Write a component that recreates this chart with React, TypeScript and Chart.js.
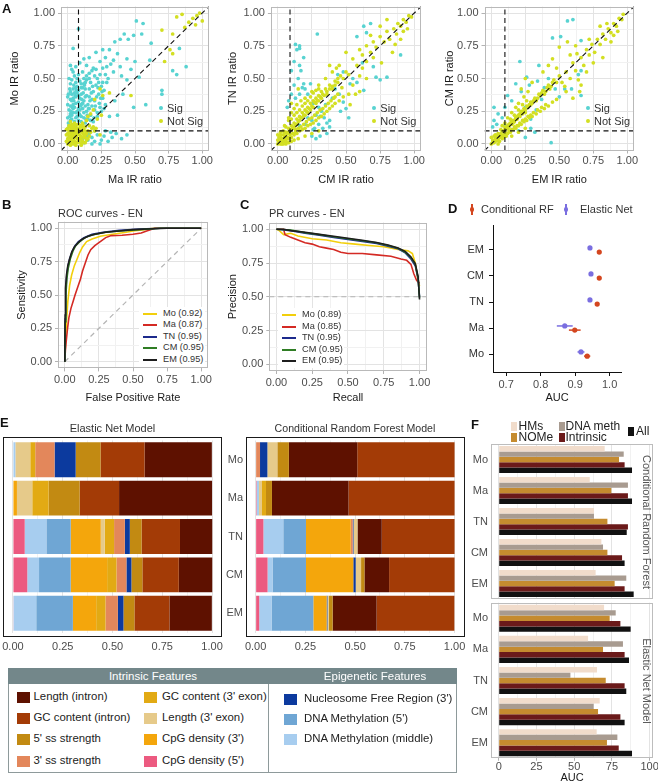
import React, { useEffect, useRef } from "react";
import { Chart, registerables } from "chart.js";

Chart.register(...registerables);

const FONT = "'Liberation Sans', Arial, Helvetica, sans-serif";
Chart.defaults.font.family = FONT;

// ---------------- colours ----------------
const CYAN = "#58d3d1";
const YEL = "#d3df22";
const MAJOR_GRID = "#e3e3e3";
const MINOR_GRID = "#f1f1f1";

// ---------------- Panel A data (IR ratio scatter) ----------------
const IR_TICKS = [0, 0.25, 0.5, 0.75, 1];
const IR_MINOR = [0.125, 0.375, 0.625, 0.875];
const A_VLINE = [0.08, 0.09, 0.1];
const A_HLINE = [0.1, 0.1, 0.1];

const MA_MO_SIG: number[][] = [
  [0.01,0.14],[0.02,0.18],[0.03,0.22],[0.01,0.26],[0.04,0.30],[0.02,0.34],[0.05,0.17],[0.06,0.20],[0.07,0.25],[0.05,0.28],
  [0.08,0.32],[0.03,0.38],[0.06,0.36],[0.09,0.22],[0.10,0.17],[0.11,0.27],[0.04,0.42],[0.07,0.44],[0.10,0.38],[0.12,0.33],
  [0.02,0.46],[0.09,0.48],[0.13,0.42],[0.12,0.20],[0.14,0.25],[0.15,0.30],[0.16,0.36],[0.17,0.22],[0.00,0.20],[0.00,0.30],
  [0.08,0.18],[0.13,0.16],[0.15,0.19],[0.18,0.29],[0.19,0.40],[0.20,0.33],[0.21,0.45],[0.23,0.38],[0.17,0.47],[0.01,0.50],
  [0.05,0.52],[0.11,0.55],[0.14,0.52],[0.18,0.56],[0.22,0.50],[0.25,0.44],[0.27,0.41],[0.26,0.35],[0.29,0.47],[0.24,0.28],
  [0.22,0.24],[0.28,0.30],[0.03,0.19],[0.04,0.24],[0.02,0.29],[0.06,0.31],[0.08,0.27],[0.10,0.30],[0.07,0.39],[0.04,0.35],
  [0.11,0.43],[0.09,0.35],[0.12,0.24],[0.13,0.29],[0.14,0.37],[0.06,0.47],[0.02,0.40],[0.00,0.36],[0.10,0.21],[0.16,0.42],
  [0.18,0.34],[0.20,0.26],[0.16,0.27],[0.08,0.41],[0.12,0.50],
  [0.005,0.16],[0.015,0.21],[0.025,0.25],[0.035,0.28],[0.045,0.33],[0.055,0.37],[0.065,0.41],[0.075,0.15],[0.085,0.23],[0.095,0.29],
  [0.105,0.34],[0.115,0.39],[0.125,0.45],[0.135,0.19],[0.145,0.22],[0.155,0.27],[0.165,0.33],[0.175,0.39],[0.185,0.44],[0.195,0.20],
  [0.205,0.29],[0.215,0.36],[0.225,0.43],[0.235,0.31],[0.245,0.35],[0.255,0.40],[0.03,0.33],[0.05,0.39],[0.07,0.21],[0.09,0.26],
  [0.11,0.31],[0.13,0.36],[0.02,0.23],[0.04,0.27],[0.06,0.24],[0.08,0.37],[0.10,0.43],[0.12,0.46],[0.14,0.49],[0.16,0.54],
  [0.04,0.55],[0.08,0.53],[0.03,0.49],[0.07,0.50],[0.015,0.42],[0.045,0.45],[0.20,0.52],[0.23,0.47],[0.26,0.47],[0.28,0.53],
  [0.17,0.18],[0.19,0.17],[0.22,0.21],[0.25,0.25],[0.27,0.27],[0.13,0.47],[0.005,0.38],[0.10,0.46],[0.06,0.43],[0.03,0.57],
  [0.21,0.57],[0.26,0.58],
  [0.02,0.60],[0.06,0.59],[0.16,0.50],[0.19,0.58],[0.24,0.53],[0.29,0.59],[0.34,0.55],[0.39,0.59],[0.44,0.49],[0.53,0.51],
  [0.50,0.63],[0.44,0.65],[0.34,0.64],[0.24,0.63],[0.12,0.65],[0.16,0.66],[0.04,0.73],[0.21,0.70],[0.26,0.72],[0.31,0.72],
  [0.35,0.78],[0.39,0.80],[0.45,0.80],[0.42,0.84],[0.49,0.83],[0.55,0.84],[0.51,0.94],[0.56,0.92],[0.62,0.77],[0.61,0.64],
  [0.08,0.88],[0.09,0.62],[0.14,0.60],[0.28,0.66],[0.32,0.61],[0.37,0.69],[0.40,0.52],[0.47,0.57],[0.30,0.50],
  [0.70,0.41],[0.78,0.56],[0.81,0.53],[0.88,0.59],[0.83,0.73],[0.58,0.30],[0.49,0.28],[0.31,0.21],[0.37,0.22],[0.35,0.33],
  [0.41,0.38],[0.70,0.38],
  [0.12,0.01],[0.15,0.03],[0.18,0.05],[0.20,0.02],[0.22,0.07],[0.25,0.03],[0.27,0.06],[0.30,0.02],[0.33,0.05],[0.36,0.08],
  [0.40,0.04],[0.44,0.07],[0.16,0.08],[0.20,0.10],[0.28,0.10],[0.24,0.00],[0.14,0.06],[0.32,0.09],[0.18,0.00],[0.11,0.04],
];
const MA_MO_NS: number[][] = [
  [0.00,0.00],[0.02,0.01],[0.04,0.00],[0.07,0.01],[0.10,0.00],[0.13,0.01],[0.01,0.02],[0.03,0.03],[0.05,0.02],[0.08,0.03],
  [0.11,0.02],[0.14,0.03],[0.00,0.04],[0.02,0.05],[0.04,0.04],[0.06,0.05],[0.09,0.04],[0.12,0.05],[0.15,0.04],[0.01,0.06],
  [0.03,0.07],[0.05,0.06],[0.07,0.07],[0.10,0.06],[0.13,0.07],[0.16,0.06],[0.00,0.08],[0.02,0.09],[0.04,0.08],[0.06,0.09],
  [0.08,0.08],[0.11,0.09],[0.14,0.08],[0.01,0.10],[0.03,0.11],[0.05,0.10],[0.07,0.11],[0.09,0.10],[0.12,0.11],[0.15,0.10],
  [0.00,0.12],[0.02,0.13],[0.04,0.12],[0.06,0.13],[0.08,0.12],[0.10,0.13],[0.13,0.13],[0.01,0.14],[0.03,0.15],[0.05,0.14],
  [0.08,0.15],[0.11,0.15],[0.02,0.17],[0.05,0.16],[0.17,0.09],[0.18,0.12],[0.16,0.14],[0.19,0.13],[0.21,0.12],[0.24,0.07],
  [0.20,0.10],[0.11,0.16],[0.14,0.18],[0.15,0.21],[0.17,0.23],[0.19,0.26],[0.22,0.19],[0.25,0.22],[0.20,0.34],[0.26,0.37],
  [0.24,0.42],[0.31,0.39],[0.47,0.37],
  [0.015,0.01],[0.035,0.015],[0.055,0.01],[0.085,0.015],[0.115,0.01],[0.025,0.035],[0.045,0.03],[0.075,0.035],[0.105,0.03],[0.135,0.045],
  [0.015,0.05],[0.035,0.055],[0.065,0.06],[0.095,0.055],[0.125,0.065],[0.025,0.075],[0.055,0.08],[0.085,0.075],[0.115,0.08],[0.015,0.095],
  [0.045,0.09],[0.075,0.095],[0.105,0.10],[0.135,0.095],[0.025,0.115],[0.055,0.12],[0.085,0.11],[0.115,0.125],[0.035,0.135],[0.065,0.145],
  [0.095,0.14],[-0.01,0.02],[-0.01,0.07],[-0.01,0.11],[0.02,-0.01],[0.06,-0.01],[0.10,-0.01],
  [0.81,0.97],[0.85,0.99],[0.96,0.98],[0.98,1.00],[1.00,0.94],[0.95,0.91],[0.87,0.89],[0.78,0.84],[0.70,0.87],[0.72,0.63],
  [0.76,0.72],[0.78,0.69],[0.93,0.96],[0.90,0.93],
];

const CM_TN_SIG: number[][] = [
  [0.29,0.84],[0.16,0.75],[0.13,0.76],[0.16,0.73],[0.12,0.63],[0.10,0.56],[0.19,0.46],[0.14,0.72],[0.16,0.60],[0.15,0.50],
  [0.12,0.45],[0.18,0.43],[0.16,0.38],[0.20,0.42],[0.13,0.35],[0.19,0.66],[0.17,0.56],[0.10,0.38],[0.08,0.33],[0.07,0.28],
  [0.24,0.46],[0.22,0.38],[0.26,0.31],[0.30,0.28],[0.28,0.22],[0.32,0.25],[0.34,0.20],[0.30,0.15],[0.33,0.12],[0.36,0.08],
  [0.27,0.12],[0.25,0.18],[0.22,0.20],[0.20,0.15],[0.16,0.14],[0.25,0.06],[0.28,0.04],[0.38,0.18],[0.35,0.30],[0.40,0.35],
  [0.42,0.42],[0.45,0.38],[0.48,0.32],[0.50,0.27],[0.52,0.20],[0.46,0.25],[0.55,0.50],[0.58,0.47],[0.63,0.41],[0.63,0.90],
  [0.68,0.92],[0.65,0.85],[0.58,0.82],[0.70,0.59],[0.72,0.51],[0.75,0.49],[0.90,0.68],[0.80,0.51],[0.53,0.46],[0.48,0.55],
  [0.44,0.53],[0.62,0.62],[0.31,0.21],[0.36,0.16],[0.38,0.13],[0.26,0.11],[0.31,0.06],
];
const CM_TN_NS: number[][] = [
  [0.00,0.00],[0.02,0.00],[0.00,0.03],[0.03,0.01],[0.05,0.04],[0.04,0.00],[0.06,0.02],[0.07,0.05],[0.00,0.07],[0.02,0.09],
  [0.09,0.07],[0.10,0.02],[0.12,0.03],[0.13,0.11],
  [0.01,0.02],[0.02,0.05],[0.03,0.03],[0.04,0.07],[0.05,0.06],[0.06,0.09],[0.07,0.08],[0.08,0.12],[0.09,0.10],[0.10,0.14],
  [0.11,0.12],[0.12,0.16],[0.13,0.15],[0.14,0.19],[0.15,0.17],[0.16,0.21],[0.17,0.20],[0.18,0.24],[0.19,0.22],[0.20,0.26],
  [0.21,0.25],[0.22,0.28],[0.23,0.27],[0.24,0.31],[0.25,0.29],[0.26,0.33],[0.27,0.32],[0.28,0.35],[0.29,0.33],[0.30,0.37],
  [0.31,0.36],[0.32,0.40],[0.33,0.38],[0.35,0.42],[0.36,0.40],[0.38,0.45],[0.40,0.44],[0.42,0.48],[0.44,0.47],[0.46,0.52],
  [0.48,0.50],[0.50,0.55],[0.52,0.53],[0.12,0.27],[0.14,0.30],[0.10,0.24],[0.20,0.35],[0.17,0.33],[0.08,0.20],
  [0.05,0.02],[0.08,0.04],[0.10,0.05],[0.12,0.07],[0.14,0.08],[0.16,0.10],[0.18,0.11],[0.20,0.12],[0.22,0.14],[0.24,0.15],
  [0.26,0.16],[0.28,0.18],[0.30,0.20],[0.32,0.21],[0.34,0.23],[0.36,0.25],[0.38,0.27],[0.40,0.29],[0.42,0.31],[0.45,0.33],
  [0.48,0.36],[0.52,0.38],[0.25,0.08],[0.20,0.06],[0.30,0.10],[0.15,0.04],
  [0.02,0.03],[0.04,0.04],[0.06,0.06],[0.08,0.09],[0.10,0.11],[0.12,0.13],[0.14,0.15],[0.16,0.18],[0.18,0.20],[0.20,0.22],
  [0.22,0.24],[0.24,0.26],[0.26,0.28],[0.28,0.31],[0.30,0.33],[0.32,0.35],[0.34,0.37],[0.36,0.38],[0.38,0.42],[0.40,0.42],
  [0.42,0.45],[0.44,0.50],[0.10,0.19],[0.12,0.22],[0.14,0.24],[0.16,0.26],[0.18,0.29],[0.20,0.31],[0.22,0.33],[0.24,0.36],
  [0.26,0.39],[0.28,0.41],[0.30,0.42],[0.06,0.13],[0.04,0.10],[0.07,0.04],[0.09,0.05],[0.11,0.08],[0.13,0.09],[0.15,0.12],
  [0.17,0.13],[0.19,0.15],[0.21,0.17],[0.23,0.19],[0.25,0.20],[0.27,0.22],[0.29,0.24],[0.31,0.26],[0.33,0.27],[0.35,0.29],
  [0.37,0.31],[0.39,0.33],[0.41,0.35],[0.44,0.38],[0.02,0.07],[0.05,0.09],[0.01,0.05],[0.03,0.00],[0.08,0.01],[0.06,0.00],
  [0.05,0.14],[0.08,0.18],[0.10,0.31],[0.15,0.42],[0.25,0.40],[0.30,0.45],[0.35,0.50],[0.40,0.55],[0.45,0.60],[0.55,0.65],
  [0.50,0.70],[0.60,0.72],[0.58,0.60],[0.62,0.68],[0.65,0.75],[0.55,0.45],[0.60,0.52],[0.62,0.58],[0.65,0.63],[0.68,0.70],
  [0.70,0.78],[0.72,0.74],[0.70,0.66],[0.75,0.82],[0.78,0.78],[0.80,0.86],[0.82,0.80],[0.85,0.88],[0.87,0.84],[0.88,0.92],
  [0.90,0.90],[0.92,0.95],[0.94,0.93],[0.96,0.98],[0.98,0.97],[0.86,0.76],[0.90,0.80],[0.92,0.86],[0.95,0.88],[0.80,0.95],
  [0.75,0.90],[0.68,0.83],[0.84,0.70],[0.76,0.62],[0.57,0.38],[0.60,0.40],[0.65,0.50],[0.53,0.30],[0.47,0.43],[0.42,0.36],
  [0.43,0.58],[0.38,0.60],
];

const EM_CM_SIG: number[][] = [
  [0.60,0.95],[0.56,0.94],[0.51,0.82],[0.45,0.81],[0.21,0.63],[0.26,0.51],[0.34,0.48],[0.39,0.43],[0.47,0.42],[0.54,0.42],
  [0.59,0.42],[0.64,0.53],[0.66,0.56],[0.33,0.26],[0.29,0.19],[0.32,0.09],[0.44,0.01],[0.10,0.14],[0.02,0.28],[0.05,0.23],
  [0.02,0.18],[0.01,0.13],[0.12,0.37],[0.15,0.33],[0.10,0.28],[0.25,0.28],[0.66,0.37],[0.66,0.79],[0.18,0.46],[0.22,0.40],
  [0.37,0.34],[0.29,0.12],[0.25,0.05],[0.20,0.10],[0.08,0.20],[0.04,0.15],[0.42,0.50],[0.35,0.60],[0.28,0.45],[0.50,0.36],
];
const EM_CM_NS: number[][] = [
  [0.00,0.00],[0.02,0.01],[0.01,0.03],[0.03,0.04],[0.05,0.03],[0.04,0.06],[0.06,0.05],[0.07,0.08],[0.09,0.07],[0.08,0.10],
  [0.10,0.09],[0.02,0.06],[0.00,0.05],[0.05,0.00],[0.08,0.04],[0.11,0.06],
  [0.11,0.12],[0.12,0.14],[0.13,0.13],[0.14,0.16],[0.15,0.15],[0.16,0.18],[0.17,0.17],[0.18,0.20],[0.19,0.19],[0.20,0.22],
  [0.21,0.21],[0.22,0.25],[0.23,0.23],[0.24,0.27],[0.25,0.26],[0.26,0.29],[0.28,0.30],[0.29,0.32],[0.30,0.31],[0.32,0.35],
  [0.33,0.33],[0.35,0.38],[0.36,0.37],[0.38,0.41],[0.40,0.40],[0.42,0.45],[0.44,0.44],[0.46,0.49],[0.48,0.47],[0.50,0.52],
  [0.08,0.14],[0.10,0.16],[0.12,0.20],[0.15,0.24],[0.18,0.28],[0.20,0.31],[0.24,0.36],[0.27,0.40],[0.30,0.47],[0.25,0.50],
  [0.22,0.42],
  [0.12,0.08],[0.14,0.09],[0.16,0.11],[0.18,0.12],[0.20,0.14],[0.22,0.15],[0.24,0.17],[0.26,0.18],[0.28,0.20],[0.30,0.21],
  [0.33,0.23],[0.36,0.25],[0.39,0.27],[0.42,0.29],[0.45,0.32],[0.48,0.34],[0.15,0.06],[0.20,0.09],[0.25,0.12],
  [0.01,0.01],[0.03,0.02],[0.04,0.03],[0.06,0.07],[0.07,0.06],[0.09,0.10],[0.10,0.11],[0.12,0.12],[0.13,0.15],[0.15,0.17],
  [0.16,0.16],[0.18,0.19],[0.19,0.21],[0.21,0.23],[0.23,0.25],[0.25,0.24],[0.27,0.28],[0.29,0.30],[0.31,0.33],[0.34,0.35],
  [0.37,0.39],[0.39,0.38],[0.41,0.43],[0.43,0.42],[0.45,0.47],[0.13,0.10],[0.15,0.11],[0.17,0.13],[0.19,0.14],[0.21,0.16],
  [0.23,0.18],[0.25,0.19],[0.27,0.21],[0.29,0.22],[0.31,0.24],[0.34,0.26],[0.37,0.28],[0.40,0.30],[0.10,0.13],[0.14,0.19],
  [0.17,0.22],[0.20,0.26],[0.23,0.30],[0.26,0.33],[0.05,0.08],[0.03,0.07],[0.07,0.11],[0.09,0.05],[0.11,0.08],[0.06,0.02],
  [0.52,0.47],[0.55,0.55],[0.58,0.50],[0.60,0.62],[0.62,0.56],[0.64,0.49],[0.66,0.66],[0.68,0.60],[0.70,0.72],[0.72,0.68],
  [0.74,0.76],[0.76,0.70],[0.78,0.80],[0.80,0.76],[0.82,0.84],[0.84,0.80],[0.86,0.88],[0.88,0.85],[0.90,0.92],[0.92,0.90],
  [0.94,0.96],[0.96,0.95],[0.97,0.99],[0.85,0.92],[0.80,0.90],[0.88,0.78],[0.75,0.62],[0.70,0.55],[0.65,0.40],[0.60,0.35],
  [0.55,0.40],[0.42,0.60],[0.38,0.55],[0.45,0.65],[0.50,0.74],[0.56,0.78],[0.62,0.75],[0.48,0.58],[0.58,0.68],[0.63,0.69],
  [0.72,0.80],[0.90,0.83],[0.93,0.86],[0.82,0.66],[0.66,0.45],[0.54,0.44],
];

// ---------------- Panel B / C data ----------------
const CURVE_NAMES = ["Mo", "Ma", "TN", "CM", "EM"];
const CURVE_COLORS = ["#f2cf0c", "#d42a24", "#1c2a8c", "#2f7d24", "#1e1e1e"];
const ROC_AUC = ["0.92", "0.87", "0.95", "0.95", "0.95"];
const PR_AUC = ["0.89", "0.85", "0.95", "0.95", "0.95"];

const ROC_MO = [[0,0],[0.005,0.15],[0.012,0.3],[0.022,0.45],[0.035,0.57],[0.05,0.65],[0.07,0.72],[0.09,0.77],[0.11,0.82],[0.13,0.86],[0.16,0.9],[0.2,0.92],[0.26,0.94],[0.35,0.955],[0.45,0.97],[0.5,0.98],[0.58,0.99],[0.65,1],[1,1]];
const ROC_MA = [[0,0],[0.004,0.08],[0.01,0.15],[0.02,0.25],[0.03,0.33],[0.045,0.4],[0.06,0.45],[0.075,0.5],[0.095,0.56],[0.115,0.62],[0.13,0.68],[0.15,0.74],[0.17,0.8],[0.19,0.84],[0.22,0.87],[0.26,0.9],[0.3,0.93],[0.34,0.945],[0.42,0.948],[0.5,0.955],[0.56,0.965],[0.6,0.98],[0.66,1],[1,1]];
const ROC_TN = [[0,0],[0.003,0.32],[0.007,0.52],[0.013,0.63],[0.022,0.71],[0.035,0.77],[0.055,0.83],[0.075,0.87],[0.1,0.9],[0.14,0.93],[0.2,0.955],[0.28,0.97],[0.4,0.985],[0.55,0.995],[0.7,1],[1,1]];
const ROC_CM = [[0,0],[0.003,0.3],[0.008,0.5],[0.015,0.62],[0.025,0.7],[0.04,0.77],[0.06,0.83],[0.08,0.87],[0.11,0.9],[0.15,0.93],[0.2,0.95],[0.3,0.97],[0.4,0.98],[0.55,0.99],[0.7,1],[1,1]];
const ROC_EM = [[0,0],[0.002,0.35],[0.005,0.55],[0.012,0.65],[0.022,0.72],[0.035,0.77],[0.05,0.82],[0.07,0.86],[0.1,0.895],[0.13,0.92],[0.17,0.94],[0.22,0.955],[0.3,0.97],[0.4,0.98],[0.5,0.99],[0.6,0.995],[0.75,1],[1,1]];

const PR_MO = [[0,1],[0.02,0.99],[0.05,0.96],[0.1,0.97],[0.15,0.95],[0.25,0.93],[0.35,0.92],[0.45,0.9],[0.55,0.89],[0.65,0.88],[0.75,0.87],[0.85,0.85],[0.92,0.84],[0.95,0.82],[0.97,0.75],[0.99,0.62],[1,0.58]];
const PR_MA = [[0,1],[0.05,1],[0.06,0.96],[0.1,0.94],[0.15,0.92],[0.2,0.9],[0.25,0.89],[0.3,0.87],[0.35,0.86],[0.4,0.85],[0.45,0.83],[0.5,0.82],[0.6,0.82],[0.7,0.81],[0.8,0.8],[0.87,0.78],[0.91,0.77],[0.94,0.74],[0.96,0.67],[0.98,0.62],[1,0.6]];
const PR_TN = [[0,1],[0.1,0.99],[0.2,0.97],[0.3,0.955],[0.4,0.94],[0.5,0.925],[0.6,0.91],[0.7,0.895],[0.78,0.875],[0.85,0.855],[0.9,0.825],[0.94,0.78],[0.97,0.73],[0.99,0.63],[1,0.5]];
const PR_CM = [[0,1],[0.1,0.995],[0.2,0.975],[0.3,0.96],[0.4,0.945],[0.5,0.93],[0.6,0.915],[0.7,0.9],[0.78,0.88],[0.85,0.86],[0.9,0.83],[0.94,0.79],[0.97,0.74],[0.99,0.64],[1,0.49]];
const PR_EM = [[0,1],[0.05,1],[0.1,0.99],[0.2,0.978],[0.3,0.962],[0.4,0.948],[0.5,0.933],[0.6,0.918],[0.7,0.902],[0.78,0.884],[0.85,0.862],[0.9,0.835],[0.94,0.795],[0.97,0.745],[0.99,0.65],[1,0.48]];

// ---------------- Panel D data ----------------
const D_ROWS = ["Mo", "Ma", "TN", "CM", "EM"];
const D_TICKS = [0.7, 0.8, 0.9, 1.0];
const D_RF = [0.935, 0.899, 0.964, 0.97, 0.97];
const D_RF_ERR = [0.009, 0.017, 0.003, 0.003, 0.003];
const D_EN = [0.917, 0.87, 0.943, 0.946, 0.943];
const D_EN_ERR = [0.01, 0.023, 0.003, 0.003, 0.003];
const RF_COLOR = "#d4461f";
const EN_COLOR = "#7a6ee0";

// ---------------- Panel E data (feature shares: Mo, Ma, TN, CM, EM) ----------------
const E_ROWS = ["Mo", "Ma", "TN", "CM", "EM"];
const E_TICKS = [0, 0.25, 0.5, 0.75, 1];
const E_MINOR = [0.125, 0.375, 0.625, 0.875];

const C_LEN_INTRON = "#5e1100";
const C_GC_INTRON = "#a33b06";
const C_SS5 = "#c28a12";
const C_SS3 = "#e3875b";
const C_GC_EXON = "#e2aa14";
const C_LEN_EXON = "#e6ca8a";
const C_CPG3 = "#f4a60c";
const C_CPG5 = "#ec5a80";
const C_NFR = "#0c3a9e";
const C_METH5 = "#6fa6d4";
const C_METH_MID = "#a7cdef";

const EN_CPG5 = [0, 0, 0.059, 0.072, 0.003];
const EN_METH_MID = [0.012, 0, 0.109, 0.059, 0.114];
const EN_METH5 = [0, 0, 0.122, 0.159, 0.184];
const EN_CPG3 = [0, 0.02, 0.151, 0.183, 0.117];
const EN_LEN_EXON = [0.075, 0.077, 0.02, 0, 0];
const EN_GC_EXON = [0.025, 0.082, 0.047, 0.047, 0.047];
const EN_SS3 = [0.097, 0, 0.054, 0.05, 0.062];
const EN_NFR = [0.106, 0, 0.025, 0.025, 0.028];
const EN_SS5 = [0.125, 0.156, 0.059, 0.055, 0.055];
const EN_GC_INTRON = [0.221, 0.198, 0.193, 0.183, 0.176];
const EN_LEN_INTRON = [0.338, 0.467, 0.162, 0.168, 0.213];

const RF_CPG5 = [0, 0.005, 0.039, 0.06, 0.018];
const RF_METH_MID = [0, 0.012, 0.1, 0.025, 0.062];
const RF_METH5 = [0, 0, 0.114, 0.168, 0.21];
const RF_CPG3 = [0, 0, 0.225, 0.238, 0.067];
const RF_SS3 = [0.022, 0, 0.01, 0, 0];
const RF_NFR = [0.037, 0, 0.004, 0.012, 0.004];
const RF_LEN_EXON = [0.05, 0.015, 0.02, 0.027, 0.006];
const RF_GC_EXON = [0, 0.02, 0, 0, 0];
const RF_SS5 = [0.058, 0.03, 0, 0.017, 0.02];
const RF_LEN_INTRON = [0.344, 0.385, 0.122, 0.124, 0.221];
const RF_GC_INTRON = [0.489, 0.533, 0.366, 0.329, 0.391];

// ---------------- Panel F data (AUC, Mo, Ma, TN, CM, EM) ----------------
const F_ROWS = ["Mo", "Ma", "TN", "CM", "EM"];
const F_TICKS = [0, 25, 50, 75, 100];
const F_MINOR = [12.5, 37.5, 62.5, 87.5];
const F_SETS = ["HMs", "DNA meth", "NOMe", "Intrinsic", "All"];
const F_COLORS = ["#f1dccb", "#a89b90", "#c58b2f", "#6b1a1a", "#111111"];
const RF_HMS = [70.2, 60.3, 63.1, 68.0, 64.2];
const RF_DNAMETH = [82.8, 85.6, 63.1, 69.1, 84.5];
const RF_NOME = [79.7, 74.6, 72.0, 72.0, 76.8];
const RF_INTR = [83.4, 85.6, 85.6, 81.7, 83.4];
const RF_ALL = [88.3, 88.3, 84.8, 83.4, 89.4];
const EN_HMS = [69.8, 59.2, 65.1, 66.9, 64.9];
const EN_DNAMETH = [77.5, 82.3, 47.5, 62.9, 78.6];
const EN_NOME = [73.5, 69.1, 70.9, 65.8, 71.7];
const EN_INTR = [80.6, 83.4, 83.4, 80.6, 79.5];
const EN_ALL = [87.4, 86.3, 84.5, 83.4, 88.3];

// ---------------- plugin: panel frame ----------------
const framePlugin: any = {
  id: "frame",
  defaults: { color: "", padY: 0 },
  afterDatasetsDraw(chart: any, _a: any, o: any) {
    if (!o || !o.color) return;
    const a = chart.chartArea;
    const ctx = chart.ctx;
    ctx.save();
    ctx.strokeStyle = o.color;
    ctx.lineWidth = 1;
    const l = Math.round(a.left) + 0.5;
    const t = Math.round(a.top - o.padY) + 0.5;
    const r = Math.round(a.right) - 0.5;
    const b = Math.round(a.bottom + o.padY) - 0.5;
    ctx.strokeRect(l, t, r - l, b - t);
    ctx.restore();
  },
};
Chart.register(framePlugin);

// ---------------- helpers ----------------
const f2 = (v: number) => v.toFixed(2);

function numAxis(o: any) {
  const major: number[] = o.major;
  const all = [...major, ...(o.minor || [])].sort((a, b) => a - b);
  const isMajor = (v: number) => major.some((m) => Math.abs(m - v) < 1e-9);
  const horizontal = !!o.horizontal;
  return {
    type: "linear",
    position: horizontal ? "bottom" : "left",
    min: o.min,
    max: o.max,
    stacked: !!o.stacked,
    afterBuildTicks: (s: any) => {
      s.ticks = all.map((v) => ({ value: v }));
    },
    afterFit: (s: any) => {
      if (horizontal) s.height = o.box;
      else s.width = o.box;
      s.paddingLeft = 0;
      s.paddingRight = 0;
      s.paddingTop = 0;
      s.paddingBottom = 0;
    },
    ticks: {
      display: o.labels !== false,
      autoSkip: false,
      maxRotation: 0,
      minRotation: 0,
      padding: o.tickPad ?? 2,
      color: o.labelColor ?? "#4d4d4d",
      font: { family: FONT, size: o.fontSize ?? 11 },
      callback: (v: number) => (isMajor(v) ? (o.fmt ? o.fmt(v) : String(v)) : ""),
    },
    grid: {
      display: true,
      drawOnChartArea: o.grid !== false,
      color: (c: any) => (c.tick && isMajor(c.tick.value) ? MAJOR_GRID : MINOR_GRID),
      lineWidth: 1,
      drawTicks: (o.tickLen ?? 0) > 0,
      tickLength: o.tickLen ?? 0,
      tickColor: (c: any) =>
        c.tick && isMajor(c.tick.value) ? o.tickColor ?? "#b3b3b3" : "rgba(0,0,0,0)",
    },
    border: { display: !!o.border, color: o.border ?? "#000", width: 1 },
    title: o.title
      ? {
          display: true,
          text: o.title,
          color: "#1a1a1a",
          font: { family: FONT, size: 11 },
          padding: { top: o.titlePad ?? 0, bottom: o.titlePad ?? 0 },
        }
      : { display: false },
  };
}

function catAxis(o: any) {
  return {
    type: "category",
    position: "left",
    offset: true,
    display: o.display !== false,
    stacked: !!o.stacked,
    afterFit: (s: any) => {
      s.width = o.box;
      s.paddingLeft = 0;
      s.paddingRight = 0;
      s.paddingTop = 0;
      s.paddingBottom = 0;
    },
    ticks: {
      display: true,
      autoSkip: false,
      padding: o.tickPad ?? 3,
      color: o.labelColor ?? "#4d4d4d",
      font: { family: FONT, size: o.fontSize ?? 11 },
    },
    grid: { display: false, drawTicks: false },
    border: { display: false },
  };
}

function baseOpts(pad: any, frame: any) {
  return {
    responsive: false,
    animation: false,
    events: [],
    layout: { padding: pad, autoPadding: false },
    plugins: {
      legend: { display: false },
      tooltip: { enabled: false },
      title: { display: false },
      frame,
    },
  };
}

const toXY = (arr: number[][]) => arr.map((p) => ({ x: p[0], y: p[1] }));

function dashDs(pts: number[][], color: string, width = 1, dash = [5, 3.5]) {
  return {
    data: toXY(pts),
    showLine: true,
    borderColor: color,
    borderWidth: width,
    borderDash: dash,
    pointRadius: 0,
    fill: false,
  };
}

function ptsDs(arr: number[][], color: string, r = 1.85) {
  return {
    data: toXY(arr),
    showLine: false,
    backgroundColor: color,
    borderWidth: 0,
    pointRadius: r,
  };
}

// ---------------- chart makers ----------------
function makeIR(sig: number[][], ns: number[][], vx: number, hy: number, xTitle: string, yTitle: string, yW: number, padR: number, yTitlePad: number) {
  return () => ({
    type: "scatter",
    data: {
      datasets: [
        dashDs([[vx, -0.05], [vx, 1.05]], "#111", 1.1),
        dashDs([[-0.05, hy], [1.05, hy]], "#111", 1.1),
        dashDs([[-0.05, -0.05], [1.05, 1.05]], "#111", 1.1),
        ptsDs(ns, YEL),
        ptsDs(sig, CYAN),
      ],
    },
    options: {
      ...baseOpts({ left: 0, right: padR, top: 6.5, bottom: 0 }, { color: "#b9b9b9", padY: 0 }),
      scales: {
        x: numAxis({ horizontal: true, min: -0.05, max: 1.05, major: IR_TICKS, minor: IR_MINOR, fmt: f2, box: 44.5, tickLen: 3, tickPad: 1, title: xTitle, titlePad: 8.4 }),
        y: numAxis({ horizontal: false, min: -0.05, max: 1.05, major: IR_TICKS, minor: IR_MINOR, fmt: f2, box: yW, tickLen: 3, tickPad: 3, title: yTitle, titlePad: yTitlePad }),
      },
    },
  });
}

function makeCurves(curves: number[][][], diag: number[][], xTitle: string, yTitle: string, yW: number, padR: number, padTop: number, xBox: number, yTitlePad: number) {
  return () => {
    const ds: any[] = [];
    for (let i = curves.length - 1; i >= 0; i--) {
      ds.push({
        data: toXY(curves[i]),
        showLine: true,
        borderColor: CURVE_COLORS[i],
        borderWidth: 1.6,
        pointRadius: 0,
        fill: false,
        tension: 0,
      });
    }
    ds.push(dashDs(diag, "#b4b4b4", 1.2, [5, 4]));
    return {
      type: "scatter",
      data: { datasets: ds },
      options: {
        ...baseOpts({ left: 0, right: padR, top: padTop, bottom: 0 }, { color: "#b9b9b9", padY: 0 }),
        scales: {
          x: numAxis({ horizontal: true, min: -0.05, max: 1.05, major: IR_TICKS, minor: IR_MINOR, fmt: f2, box: xBox, tickLen: 3, tickPad: 2, title: xTitle, titlePad: 1.4 }),
          y: numAxis({ horizontal: false, min: -0.05, max: 1.05, major: IR_TICKS, minor: IR_MINOR, fmt: f2, box: yW, tickLen: 3, tickPad: 3, title: yTitle, titlePad: yTitlePad }),
        },
      },
    };
  };
}

function makeD() {
  return () => {
    const ds: any[] = [];
    ds.push({ data: D_RF.map((v, i) => ({ x: v, y: i + 1 - 0.08 })), showLine: false, backgroundColor: RF_COLOR, borderWidth: 0, pointRadius: 2.6 });
    ds.push({ data: D_EN.map((v, i) => ({ x: v, y: i + 1 + 0.08 })), showLine: false, backgroundColor: EN_COLOR, borderWidth: 0, pointRadius: 2.6 });
    D_RF.forEach((v, i) => {
      ds.push({ data: [{ x: v - D_RF_ERR[i], y: i + 1 - 0.08 }, { x: v + D_RF_ERR[i], y: i + 1 - 0.08 }], showLine: true, borderColor: RF_COLOR, borderWidth: 1.5, pointRadius: 0 });
    });
    D_EN.forEach((v, i) => {
      ds.push({ data: [{ x: v - D_EN_ERR[i], y: i + 1 + 0.08 }, { x: v + D_EN_ERR[i], y: i + 1 + 0.08 }], showLine: true, borderColor: EN_COLOR, borderWidth: 1.5, pointRadius: 0 });
    });
    return {
      type: "scatter",
      data: { datasets: ds },
      options: {
        ...baseOpts({ left: 0, right: 37, top: 5, bottom: 0 }, { color: "" }),
        scales: {
          x: numAxis({ horizontal: true, min: 0.662, max: 1.033, major: D_TICKS, fmt: (v: number) => v.toFixed(1), box: 34, grid: false, tickLen: 4, tickPad: 2, tickColor: "#111", border: "#111", title: "AUC", titlePad: 1.4 }),
          y: numAxis({ horizontal: false, min: 0.31, max: 5.96, major: [1, 2, 3, 4, 5], fmt: (v: number) => D_ROWS[Math.round(v) - 1], box: 53, grid: false, tickLen: 4, tickPad: 5, tickColor: "#111", border: "#111", labelColor: "#333" }),
        },
      },
    };
  };
}

function makeE(order: { data: number[]; color: string }[], showY: boolean, yBox: number, padL: number, padR: number) {
  return () => ({
    type: "bar",
    data: {
      labels: E_ROWS,
      datasets: order.map((o) => ({
        data: o.data,
        backgroundColor: o.color,
        borderWidth: 0,
        barPercentage: 0.91,
        categoryPercentage: 1,
      })),
    },
    options: {
      ...baseOpts({ left: padL, right: padR, top: 8.5, bottom: 0 }, { color: "#1a1a1a", padY: 4 }),
      indexAxis: "y",
      scales: {
        x: numAxis({ horizontal: true, stacked: true, min: -0.05, max: 1.05, major: E_TICKS, minor: E_MINOR, fmt: f2, box: 24.5, tickLen: 0, tickPad: 8 }),
        y: catAxis({ display: showY, stacked: true, box: yBox, tickPad: 2.7 }),
      },
    },
  });
}

function makeF(series: number[][], showX: boolean, xBox: number, padTop: number, padBottom: number) {
  return () => ({
    type: "bar",
    data: {
      labels: F_ROWS,
      datasets: series.map((s, i) => ({
        data: s,
        backgroundColor: F_COLORS[i],
        borderWidth: 0,
        barPercentage: 1,
        categoryPercentage: 0.87,
      })),
    },
    options: {
      ...baseOpts({ left: 0, right: 5, top: padTop, bottom: padBottom }, { color: "#bdbdbd", padY: 0 }),
      indexAxis: "y",
      scales: {
        x: numAxis({ horizontal: true, min: -5.1, max: 102.2, major: F_TICKS, minor: F_MINOR, box: xBox, labels: showX, tickLen: showX ? 2.5 : 0, tickPad: 0, title: showX ? "AUC" : "", titlePad: 0.4 }),
        y: catAxis({ box: 33, tickPad: 3 }),
      },
    },
  });
}

// ---------------- React pieces ----------------
function ChartCanvas({ x, y, w, h, make }: { x: number; y: number; w: number; h: number; make: () => any }) {
  const ref = useRef<HTMLCanvasElement | null>(null);
  useEffect(() => {
    const chart = new Chart(ref.current as HTMLCanvasElement, make());
    return () => chart.destroy();
  }, []);
  return (
    <canvas
      ref={ref}
      width={w}
      height={h}
      style={{ position: "absolute", left: x, top: y, width: w, height: h }}
    />
  );
}

function T({ x, y, children, size = 11, color = "#222", anchor = "left", bold = false, rot = 0, ls }: any) {
  const tx = anchor === "center" ? "-50%" : anchor === "right" ? "-100%" : "0";
  return (
    <div
      style={{
        position: "absolute",
        left: x,
        top: y,
        transform: `translate(${tx}, -50%) rotate(${rot}deg)`,
        fontSize: size,
        lineHeight: 1,
        whiteSpace: "nowrap",
        color,
        fontWeight: bold ? 700 : 400,
        letterSpacing: ls,
        fontFamily: FONT,
      }}
    >
      {children}
    </div>
  );
}

function Box({ x, y, w, h, bg, style }: any) {
  return <div style={{ position: "absolute", left: x, top: y, width: w, height: h, background: bg, ...style }} />;
}

function Dot({ x, y, r, color }: any) {
  return <div style={{ position: "absolute", left: x - r, top: y - r, width: 2 * r, height: 2 * r, borderRadius: "50%", background: color }} />;
}

function CurveLegend({ x, rows, labels, auc }: any) {
  return (
    <>
      <Box x={x - 4} y={rows[0] - 7} w={66} h={rows[4] - rows[0] + 14} bg="#fff" />
      {labels.map((l: string, i: number) => (
        <React.Fragment key={l}>
          <Box x={x} y={rows[i] - 1} w={14} h={2} bg={CURVE_COLORS[i]} />
          <T x={x + 20} y={rows[i]} size={9.2} color="#333">{`${l} (${auc[i]})`}</T>
        </React.Fragment>
      ))}
    </>
  );
}

const E_LEGEND_COL1 = ["Length (intron)", "GC content (intron)", "5' ss strength", "3' ss strength"];
const E_LEGEND_COL1_C = [C_LEN_INTRON, C_GC_INTRON, C_SS5, C_SS3];
const E_LEGEND_COL2 = ["GC content (3' exon)", "Length (3' exon)", "CpG density (3')", "CpG density (5')"];
const E_LEGEND_COL2_C = [C_GC_EXON, C_LEN_EXON, C_CPG3, C_CPG5];
const E_LEGEND_COL3 = ["Nucleosome Free Region (3')", "DNA Methylation (5')", "DNA Methylation (middle)"];
const E_LEGEND_COL3_C = [C_NFR, C_METH5, C_METH_MID];

export default function App() {
  const enOrder = [
    { data: EN_CPG5, color: C_CPG5 },
    { data: EN_METH_MID, color: C_METH_MID },
    { data: EN_METH5, color: C_METH5 },
    { data: EN_CPG3, color: C_CPG3 },
    { data: EN_LEN_EXON, color: C_LEN_EXON },
    { data: EN_GC_EXON, color: C_GC_EXON },
    { data: EN_SS3, color: C_SS3 },
    { data: EN_NFR, color: C_NFR },
    { data: EN_SS5, color: C_SS5 },
    { data: EN_GC_INTRON, color: C_GC_INTRON },
    { data: EN_LEN_INTRON, color: C_LEN_INTRON },
  ];
  const rfOrder = [
    { data: RF_CPG5, color: C_CPG5 },
    { data: RF_METH_MID, color: C_METH_MID },
    { data: RF_METH5, color: C_METH5 },
    { data: RF_CPG3, color: C_CPG3 },
    { data: RF_SS3, color: C_SS3 },
    { data: RF_NFR, color: C_NFR },
    { data: RF_LEN_EXON, color: C_LEN_EXON },
    { data: RF_GC_EXON, color: C_GC_EXON },
    { data: RF_SS5, color: C_SS5 },
    { data: RF_LEN_INTRON, color: C_LEN_INTRON },
    { data: RF_GC_INTRON, color: C_GC_INTRON },
  ];
  const bRows = [313.5, 325, 336.5, 348, 359.5];
  const cRows = [315, 326.5, 338, 349.5, 361];
  const legRows = [697, 718, 739, 761];
  const legRows3 = [699, 719, 739];

  return (
    <div style={{ position: "absolute", left: 0, top: 0, width: 658, height: 783, overflow: "hidden", background: "#fff", fontFamily: FONT }}>
      {/* Panel A */}
      <ChartCanvas x={0} y={0} w={220} h={195} make={makeIR(MA_MO_SIG, MA_MO_NS, A_VLINE[0], A_HLINE[0], "Ma IR ratio", "Mo IR ratio", 61, 11, 8.4)} />
      <ChartCanvas x={220} y={0} w={218} h={195} make={makeIR(CM_TN_SIG, CM_TN_NS, A_VLINE[1], A_HLINE[1], "CM IR ratio", "TN IR ratio", 50.9, 16.9, 6.7)} />
      <ChartCanvas x={438} y={0} w={220} h={195} make={makeIR(EM_CM_SIG, EM_CM_NS, A_VLINE[2], A_HLINE[2], "EM IR ratio", "CM IR ratio", 46.5, 23.9, 5.1)} />
      <T x={2} y={8} size={13} bold color="#111">A</T>
      {[161, 374.3, 588].map((dx, i) => (
        <React.Fragment key={"lg" + i}>
          <Dot x={dx} y={108} r={1.9} color={CYAN} />
          <T x={dx + 6} y={108} size={11} color="#333">Sig</T>
          <Dot x={dx} y={121} r={1.9} color={YEL} />
          <T x={dx + 6} y={121} size={11} color="#333">Not Sig</T>
        </React.Fragment>
      ))}

      {/* Panel B */}
      <ChartCanvas x={0} y={215} w={220} h={191} make={makeCurves([ROC_MO, ROC_MA, ROC_TN, ROC_CM, ROC_EM], [[0, 0], [1, 1]], "False Positive Rate", "Sensitivity", 58, 12, 6.6, 37.6, 15.1)} />
      <T x={2} y={204} size={13} bold color="#111">B</T>
      <T x={58} y={213} size={11} color="#333">ROC curves - EN</T>
      <CurveLegend x={143} rows={bRows} labels={CURVE_NAMES} auc={ROC_AUC} />

      {/* Panel C */}
      <ChartCanvas x={220} y={215} w={218} h={191} make={makeCurves([PR_MO, PR_MA, PR_TN, PR_CM, PR_EM], [[-0.05, 0.5], [1.05, 0.5]], "Recall", "Precision", 49.3, 11.3, 7.5, 35, 6.7)} />
      <T x={240} y={204} size={13} bold color="#111">C</T>
      <T x={269} y={213} size={11} color="#333">PR curves - EN</T>
      <CurveLegend x={282} rows={cRows} labels={CURVE_NAMES} auc={PR_AUC} />

      {/* Panel D */}
      <ChartCanvas x={440} y={220} w={218} h={186} make={makeD()} />
      <T x={448} y={208} size={13} bold color="#111">D</T>
      <Box x={471.3} y={204} w={1.4} h={11} bg={RF_COLOR} />
      <Dot x={472} y={209.5} r={2.4} color={RF_COLOR} />
      <T x={481} y={209} size={11} color="#333">Conditional RF</T>
      <Box x={565.3} y={204} w={1.4} h={11} bg={EN_COLOR} />
      <Dot x={566} y={209.5} r={2.4} color={EN_COLOR} />
      <T x={580} y={209} size={11} color="#333">Elastic Net</T>

      {/* Panel E */}
      <ChartCanvas x={0} y={432} w={232} h={225} make={makeE(enOrder, false, 0, 3, 10)} />
      <ChartCanvas x={220} y={432} w={250} h={225} make={makeE(rfOrder, true, 25.7, 0, 5.5)} />
      <T x={0} y={422} size={13} bold color="#111">E</T>
      <T x={112.5} y={428} size={11} color="#333" anchor="center">Elastic Net Model</T>
      <T x={355} y={428} size={10.6} color="#333" anchor="center">Conditional Random Forest Model</T>

      {/* Legend for E */}
      <Box x={8} y={668} w={449} h={105} bg="#fff" style={{ border: "1px solid #8e9a9b", boxSizing: "border-box" }} />
      <Box x={8} y={668} w={449} h={16} bg="#73878a" />
      <Box x={268} y={684} w={1} h={89} bg="#8e9a9b" />
      <T x={153} y={676.5} size={11.5} color="#fff" anchor="center">Intrinsic Features</T>
      <T x={375} y={676.5} size={11.5} color="#fff" anchor="center">Epigenetic Features</T>
      {E_LEGEND_COL1.map((t, i) => (
        <React.Fragment key={t}>
          <Box x={16.5} y={legRows[i] - 5.5} w={13} h={11} bg={E_LEGEND_COL1_C[i]} />
          <T x={33.5} y={legRows[i]} size={11.4} color="#222">{t}</T>
        </React.Fragment>
      ))}
      {E_LEGEND_COL2.map((t, i) => (
        <React.Fragment key={t}>
          <Box x={143.5} y={legRows[i] - 5.5} w={13} h={11} bg={E_LEGEND_COL2_C[i]} />
          <T x={162} y={legRows[i]} size={11.4} color="#222">{t}</T>
        </React.Fragment>
      ))}
      {E_LEGEND_COL3.map((t, i) => (
        <React.Fragment key={t}>
          <Box x={283.5} y={legRows3[i] - 5.5} w={13} h={11} bg={E_LEGEND_COL3_C[i]} />
          <T x={304} y={legRows3[i]} size={11.4} color="#222">{t}</T>
        </React.Fragment>
      ))}

      {/* Panel F */}
      <ChartCanvas x={458} y={440} w={200} h={163} make={makeF([RF_HMS, RF_DNAMETH, RF_NOME, RF_INTR, RF_ALL], false, 0, 4, 4)} />
      <ChartCanvas x={458} y={598} w={200} h={187} make={makeF([EN_HMS, EN_DNAMETH, EN_NOME, EN_INTR, EN_ALL], true, 26.7, 4.7, 0)} />
      <T x={471} y={424} size={13} bold color="#111">F</T>
      <T x={645.5} y={521.5} size={11} color="#555" anchor="center" rot={90}>Conditional Random Forest</T>
      <T x={645.5} y={680.5} size={11} color="#555" anchor="center" rot={90}>Elastic Net Model</T>
      <Box x={511.3} y={421.5} w={6} h={9} bg={F_COLORS[0]} />
      <T x={518.5} y={426} size={12} color="#222">{F_SETS[0]}</T>
      <Box x={558.7} y={421.5} w={6} h={9} bg={F_COLORS[1]} />
      <T x={565.5} y={426} size={12} color="#222">{F_SETS[1]}</T>
      <Box x={511.3} y={432.5} w={6} h={9} bg={F_COLORS[2]} />
      <T x={518.5} y={437} size={12} color="#222">{F_SETS[2]}</T>
      <Box x={558.7} y={432.5} w={6} h={9} bg={F_COLORS[3]} />
      <T x={565.5} y={437} size={12} color="#222">{F_SETS[3]}</T>
      <Box x={628} y={426.5} w={6} h={9} bg={F_COLORS[4]} />
      <T x={636} y={431} size={12} color="#222">{F_SETS[4]}</T>
    </div>
  );
}
